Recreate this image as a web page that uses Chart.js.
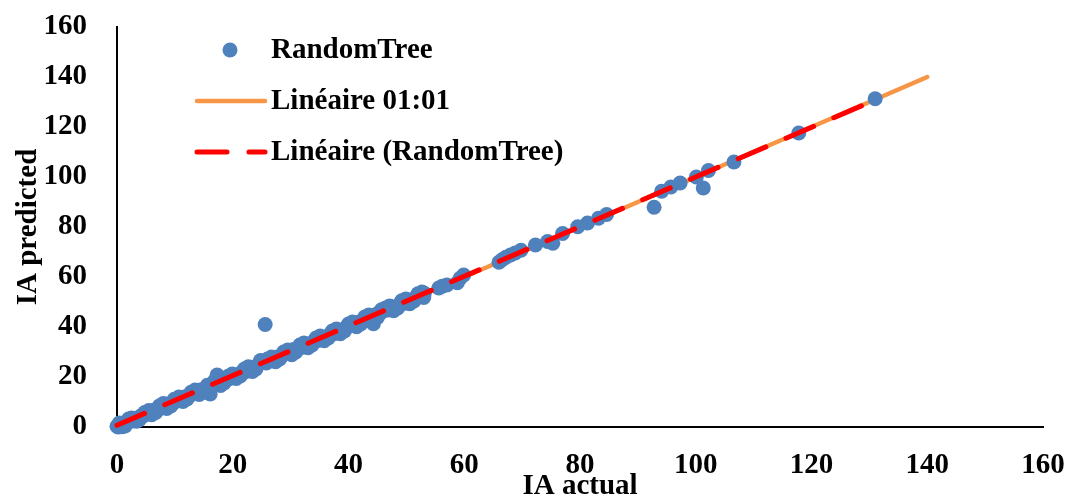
<!DOCTYPE html>
<html>
<head>
<meta charset="utf-8">
<script src="https://cdn.jsdelivr.net/npm/chart.js@4/dist/chart.umd.min.js"></script>
<style>
  html, body { margin: 0; padding: 0; background: #fff; }
  #wrap { width: 1067px; height: 495px; }
</style>
</head>
<body>
<div id="wrap"><canvas id="iaChart" width="1067" height="495"></canvas></div>
<script>
// RandomTree predictions vs measured IA
const actualIA = [
  0, 0.2, 0.3, 0.5, 0.7, 1.0, 1.2, 1.5, 1.9, 2.3, 2.7, 3.1, 3.6, 4.1, 4.6, 5.2, 5.8, 6.4, 7.0, 7.6,
  8.3, 9.0, 9.7, 10.4, 11.1, 11.8, 12.5, 13.2, 13.9, 14.6, 15.3, 16.1, 16.6, 17.3, 18.0, 18.7, 19.4, 20.1,
  20.8, 21.5, 22.2, 22.9, 23.6, 24.3, 24.8, 25.6, 25.8, 26.3, 27.0, 27.7, 28.4, 29.1, 29.8, 30.5, 31.2,
  31.9, 32.6, 33.3, 34.0, 34.7, 35.4, 36.1, 36.8, 37.5, 38.2, 38.9, 39.6, 40.3, 41.0, 41.7, 42.4, 43.1,
  43.8, 44.3, 44.9, 45.5, 46.2, 46.9, 47.6, 48.3, 49.0, 49.7, 50.4, 51.1, 51.8, 52.5, 53.1,
  0.4, 1.4, 2.5, 3.4, 4.8, 6.0, 7.3, 8.6, 9.9, 11.4, 12.8, 14.2, 15.6, 17.9, 19.2, 20.6, 22.0, 23.4,
  26.0, 27.4, 28.8, 30.2, 31.6, 33.0, 34.4, 35.8, 37.2, 38.6, 40.0, 41.4, 42.8, 45.0, 46.4, 47.8,
  49.2, 50.6, 52.0, 53.0,
  0.9, 2.0, 3.9, 5.5, 6.7, 8.0, 9.3, 10.7, 12.1, 13.5, 14.9, 16.8, 18.5, 19.9, 21.3, 22.7, 24.0,
  26.7, 28.1, 29.5, 30.9, 32.3, 33.7, 35.1, 36.5, 37.9, 39.3, 40.7, 42.1, 43.5, 45.7, 47.1, 48.5,
  49.9, 51.3, 52.7,
  55.6, 56.2, 57.0, 58.8, 59.3, 59.9,
  66.0, 66.6, 67.2, 68.0, 68.8, 69.8,
  72.3, 74.4, 75.3, 77.0, 79.6, 81.3, 83.2, 84.6,
  92.8, 94.1, 95.7, 97.3, 100.1, 101.3, 102.2, 106.6, 117.8, 131.0
];
const predictedIA = [
  0.3, 0.0, 0.8, 0.2, 1.1, 0.6, 1.6, 1.3, 2.0, 2.6, 2.4, 3.3, 3.5, 4.4, 4.5, 5.4, 5.6, 6.7, 6.8, 7.9,
  8.1, 9.3, 9.5, 10.8, 11.0, 12.1, 12.4, 13.5, 13.7, 14.9, 15.1, 13.2, 16.8, 20.8, 18.1, 18.9, 19.3, 20.4,
  20.7, 21.8, 22.1, 23.2, 23.5, 24.7, 26.6, 41.0, 25.6, 26.5, 27.1, 28.0, 28.2, 29.4, 29.6, 31.0, 31.4,
  31.8, 32.9, 33.2, 34.3, 34.6, 35.7, 35.9, 37.1, 37.3, 38.5, 38.7, 39.8, 40.6, 40.8, 41.9, 42.3, 43.4,
  43.6, 41.3, 45.2, 45.6, 46.6, 46.8, 48.0, 48.1, 49.6, 49.5, 50.7, 51.0, 52.1, 52.6, 53.5,
  1.6, 0.4, 3.6, 2.3, 5.8, 4.9, 8.4, 7.4, 11.1, 10.2, 13.9, 13.0, 16.7, 16.6, 20.3, 19.4, 23.2, 22.2,
  27.2, 26.1, 30.0, 28.9, 32.8, 31.7, 35.6, 34.5, 38.4, 37.3, 41.2, 40.1, 44.0, 43.8, 47.6, 46.5,
  50.5, 49.3, 53.3, 51.8,
  0.1, 3.2, 3.0, 6.6, 5.8, 9.4, 8.4, 12.0, 11.2, 14.8, 13.9, 18.3, 17.6, 21.2, 20.4, 24.1, 23.2,
  28.0, 27.2, 30.8, 30.0, 33.6, 32.8, 36.4, 35.6, 39.2, 38.4, 42.0, 41.2, 44.8, 46.9, 48.4, 47.6,
  51.2, 50.4, 54.0,
  55.6, 56.3, 56.8, 57.7, 59.5, 60.8,
  65.9, 67.0, 67.9, 68.8, 69.6, 70.7,
  72.8, 74.2, 73.5, 77.4, 80.1, 81.6, 83.5, 85.0,
  87.9, 94.3, 96.0, 97.6, 100.0, 95.6, 102.6, 106.0, 117.6, 131.3
];

// 1:1 reference line and fitted trend line endpoints
const oneToOneX = [0, 140];
const oneToOneY = [0, 140];
const trendX = [0, 131];
const trendY = [0.7, 130.8];

const xTicks = [0, 20, 40, 60, 80, 100, 120, 140, 160];
const yTicks = [0, 20, 40, 60, 80, 100, 120, 140, 160];

const legendLabels = ['RandomTree', 'Linéaire 01:01', 'Linéaire (RandomTree)'];

const serif = "'Liberation Serif', 'Times New Roman', serif";
const fontSize = 29;
const toPoints = (xs, ys) => xs.map((x, i) => ({ x: x, y: ys[i] }));

// legend drawn inside the plot, upper left
const insideLegend = {
  id: 'insideLegend',
  afterDraw(chart) {
    const ctx = chart.ctx;
    const ds = chart.data.datasets;
    const rows = [50, 101, 152];
    const x0 = 195, x1 = 265, textX = 271;
    ctx.save();
    ds.forEach((d, i) => {
      const y = rows[i];
      if (i === 0) {
        ctx.fillStyle = d.backgroundColor;
        ctx.beginPath();
        ctx.arc((x0 + x1) / 2, y, 7.5, 0, Math.PI * 2);
        ctx.fill();
      } else {
        ctx.strokeStyle = d.borderColor;
        ctx.lineWidth = d.borderWidth;
        ctx.lineCap = 'round';
        ctx.setLineDash(d.borderDash || []);
        ctx.beginPath();
        ctx.moveTo(x0 + 2, y);
        ctx.lineTo(x1, y);
        ctx.stroke();
        ctx.setLineDash([]);
      }
      ctx.fillStyle = '#000';
      ctx.font = 'bold ' + fontSize + 'px ' + serif;
      ctx.textBaseline = 'middle';
      ctx.textAlign = 'left';
      ctx.fillText(legendLabels[i], textX, y + 1);
    });
    ctx.restore();
  }
};

new Chart(document.getElementById('iaChart'), {
  type: 'scatter',
  data: {
    datasets: [
      {
        label: legendLabels[0],
        data: toPoints(actualIA, predictedIA),
        backgroundColor: '#4F81BD',
        borderWidth: 0,
        pointRadius: 7.5,
        pointHoverRadius: 7.5,
        order: 1,
        clip: false
      },
      {
        label: legendLabels[1],
        data: toPoints(oneToOneX, oneToOneY),
        showLine: true,
        borderColor: '#F79646',
        borderWidth: 4.5,
        borderCapStyle: 'round',
        pointRadius: 0,
        order: 2,
        clip: false
      },
      {
        label: legendLabels[2],
        data: toPoints(trendX, trendY),
        showLine: true,
        borderColor: '#FF0000',
        borderWidth: 5,
        borderDash: [30, 22],
        borderCapStyle: 'round',
        pointRadius: 0,
        order: 0,
        clip: false
      }
    ]
  },
  options: {
    responsive: false,
    animation: false,
    events: [],
    layout: { padding: { left: 0, right: 24, top: 27, bottom: 0 } },
    plugins: {
      legend: { display: false },
      tooltip: { enabled: false }
    },
    scales: {
      x: {
        type: 'linear',
        min: 0,
        max: 160,
        afterBuildTicks: s => { s.ticks = xTicks.map(v => ({ value: v })); },
        // fixed axis band; end labels may overhang the plot edges
        afterFit: s => { s.height = 68; s.paddingLeft = 0; s.paddingRight = 0; },
        grid: { display: false, drawTicks: false },
        border: { display: true, color: '#000', width: 2 },
        ticks: {
          color: '#000',
          padding: 21,
          maxRotation: 0,
          font: { family: serif, size: fontSize, weight: 'bold' }
        },
        title: {
          display: true,
          text: 'IA actual',
          color: '#000',
          padding: 0,
          font: { family: serif, size: fontSize, weight: 'bold', lineHeight: 0.6 }
        }
      },
      y: {
        type: 'linear',
        min: 0,
        max: 160,
        afterBuildTicks: s => { s.ticks = yTicks.map(v => ({ value: v })); },
        afterFit: s => { s.width = 117; s.paddingTop = 0; s.paddingBottom = 0; },
        grid: { display: false, drawTicks: false },
        border: { display: true, color: '#000', width: 2 },
        ticks: {
          color: '#000',
          padding: 30,
          font: { family: serif, size: fontSize, weight: 'bold' }
        },
        title: {
          display: true,
          text: 'IA predicted',
          color: '#000',
          padding: { top: 11, bottom: 0 },
          font: { family: serif, size: fontSize, weight: 'bold' }
        }
      }
    }
  },
  plugins: [insideLegend]
});
</script>
</body>
</html>
